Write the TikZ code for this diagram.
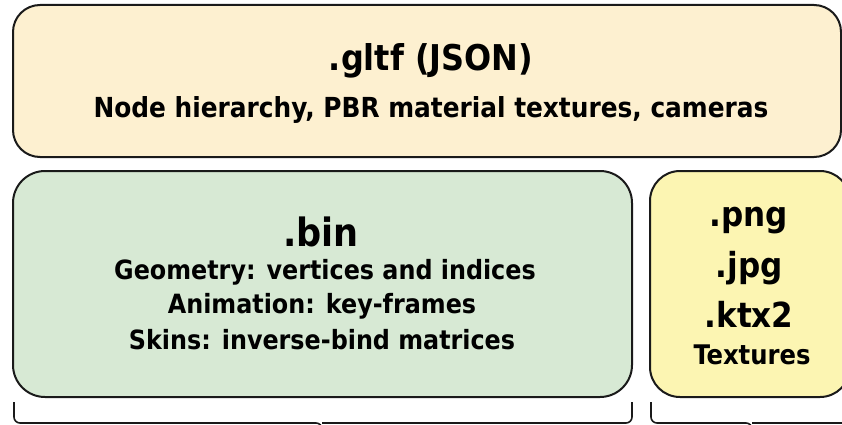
\documentclass[tikz,border=0pt]{standalone}
\usepackage{fontspec}
\setmainfont{DejaVu Sans Condensed}[BoldFont={DejaVu Sans Condensed Bold}]
\definecolor{peach}{HTML}{FDF0D0}
\definecolor{mint}{HTML}{D7E9D4}
\definecolor{lemon}{HTML}{FCF5B2}
\definecolor{edge}{HTML}{1A1A1A}
\tikzset{
  box/.style={draw=edge, line width=2pt, inner sep=0pt, outer sep=0pt, anchor=north west},
  lbl/.style={font=\bfseries, text=black, inner sep=0pt, anchor=center},
  brace/.style={draw=edge, line width=1.6pt, rounded corners=6pt}
}
\begin{document}
\begin{tikzpicture}[x=1pt,y=-1pt]
\useasboundingbox (0,0) rectangle (842,425);
\clip (0,0) rectangle (842,425);
\fill[white] (0,0) rectangle (842,425);
\node[box, fill=peach, rounded corners=27pt, minimum width=828pt, minimum height=152pt] (top) at (13,5) {};
\node[box, fill=mint, rounded corners=32pt, minimum width=619pt, minimum height=226pt] (bin) at (13,171) {};
\node[box, fill=lemon, rounded corners=30pt, minimum width=200pt, minimum height=226pt] (tex) at (650,171) {};
\node[lbl, font=\bfseries\fontsize{35.5}{38}\selectfont] (t1) at (431,61) {.gltf (JSON)};
\node[lbl, font=\bfseries\fontsize{27.6}{30}\selectfont] (t2) at (431,110) {Node hierarchy, PBR material textures, cameras};
\node[lbl, font=\bfseries\fontsize{39}{42}\selectfont] (b1) at (321,232) {.bin};
\node[lbl, font=\bfseries\fontsize{26.5}{29}\selectfont] (b2) at (325,272) {Geometry: vertices and indices};
\node[lbl, font=\bfseries\fontsize{26.5}{29}\selectfont] (b3) at (322,306) {Animation: key-frames};
\node[lbl, font=\bfseries\fontsize{26.5}{29}\selectfont] (b4) at (322,340) {Skins: inverse-bind matrices};
\node[lbl, font=\bfseries\fontsize{34.5}{38}\selectfont] (x1) at (749,221) {.png};
\node[lbl, font=\bfseries\fontsize{34.5}{38}\selectfont] (x2) at (749,268) {.jpg};
\node[lbl, font=\bfseries\fontsize{34.5}{38}\selectfont] (x3) at (749,314) {.ktx2};
\node[lbl, font=\bfseries\fontsize{27}{30}\selectfont] (x4) at (752,355) {Textures};
\coordinate (bl) at (14,402);
\coordinate (br) at (632,402);
\coordinate (btip) at (322,440);
\coordinate (tl) at (651,402);
\coordinate (tr) at (853,402);
\coordinate (ttip) at (752,440);
\draw[brace] (bl) -- (14,423) -- (322,423) -- (btip);
\draw[brace] (br) -- (632,423) -- (322,423);
\draw[brace] (tl) -- (651,423) -- (752,423) -- (ttip);
\draw[brace] (tr) -- (853,423) -- (752,423);
\end{tikzpicture}
\end{document}
